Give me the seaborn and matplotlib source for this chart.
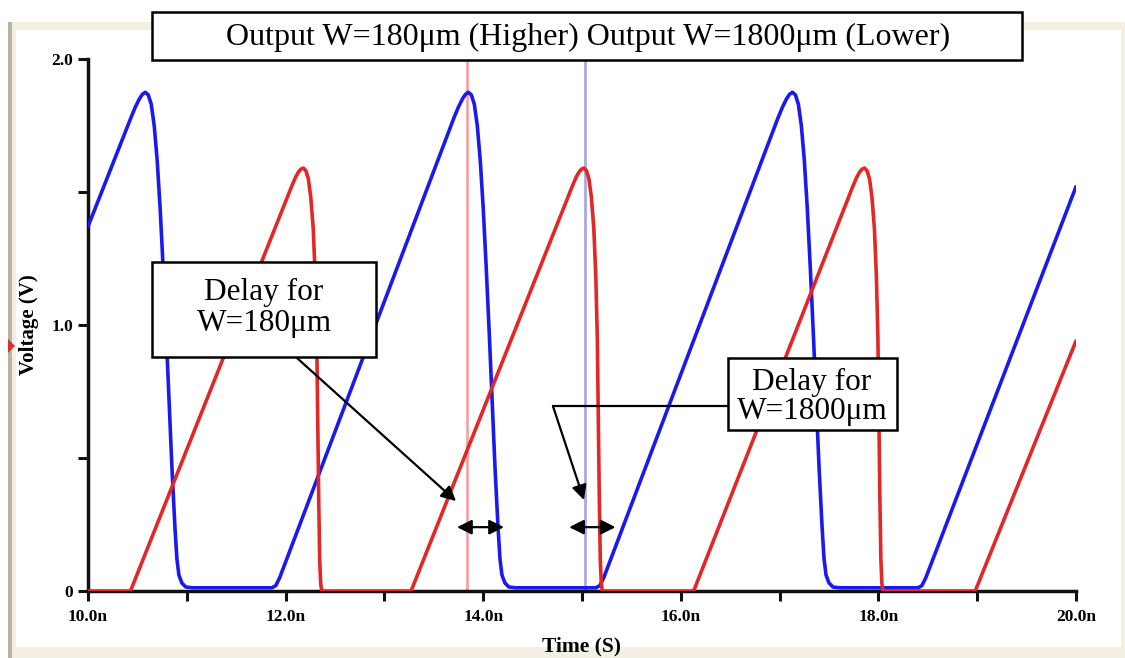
import matplotlib
matplotlib.use("Agg")
import matplotlib.pyplot as plt
from matplotlib.patches import Rectangle, Polygon
import pandas as pd
import seaborn as sns

# ---- waveform vertices (time in ns, voltage in V) ----
blue_t = [10.00, 10.43, 10.48, 10.52, 10.55, 10.58, 10.61, 10.64, 10.67, 10.70,
          10.73, 10.76, 10.79, 10.82, 10.85, 10.88, 10.90, 10.92, 10.95, 10.99,
          11.06, 11.86, 11.90, 11.94,
          13.70, 13.75, 13.79, 13.82, 13.85, 13.88, 13.91, 13.94, 13.97, 14.00,
          14.03, 14.06, 14.09, 14.12, 14.15, 14.17, 14.19, 14.22, 14.26, 14.33,
          15.14, 15.18, 15.22,
          16.98, 17.03, 17.07, 17.10, 17.13, 17.16, 17.19, 17.22, 17.25, 17.28,
          17.31, 17.34, 17.37, 17.40, 17.43, 17.45, 17.47, 17.50, 17.54, 17.61,
          18.40, 18.44, 18.48, 20.00]
blue_v = [1.37, 1.775, 1.82, 1.85, 1.867, 1.875, 1.865, 1.83, 1.75, 1.62,
          1.44, 1.22, 0.98, 0.72, 0.46, 0.24, 0.12, 0.06, 0.03, 0.015,
          0.012, 0.012, 0.02, 0.05,
          1.775, 1.82, 1.85, 1.867, 1.875, 1.865, 1.83, 1.75, 1.62, 1.44,
          1.22, 0.98, 0.72, 0.46, 0.24, 0.12, 0.06, 0.03, 0.015, 0.012,
          0.012, 0.02, 0.05,
          1.775, 1.82, 1.85, 1.867, 1.875, 1.865, 1.83, 1.75, 1.62, 1.44,
          1.22, 0.98, 0.72, 0.46, 0.24, 0.12, 0.06, 0.03, 0.015, 0.012,
          0.012, 0.02, 0.05, 1.52]

red_t = [10.00, 10.43,
         12.06, 12.10, 12.13, 12.155, 12.18, 12.205, 12.23, 12.255, 12.28, 12.30,
         12.315, 12.325, 12.335, 12.345, 12.355, 12.365,
         13.27,
         14.90, 14.94, 14.97, 14.995, 15.02, 15.045, 15.07, 15.095, 15.12, 15.14,
         15.155, 15.165, 15.175, 15.185, 15.195, 15.205,
         16.13,
         17.74, 17.78, 17.81, 17.835, 17.86, 17.885, 17.91, 17.935, 17.96, 17.98,
         17.995, 18.005, 18.015, 18.025, 18.035, 18.045,
         18.98, 20.00]
red_v = [0.0, 0.0,
         1.52, 1.555, 1.575, 1.586, 1.59, 1.58, 1.55, 1.48, 1.36, 1.18,
         0.95, 0.65, 0.35, 0.12, 0.03, 0.0,
         0.0,
         1.52, 1.555, 1.575, 1.586, 1.59, 1.58, 1.55, 1.48, 1.36, 1.18,
         0.95, 0.65, 0.35, 0.12, 0.03, 0.0,
         0.0,
         1.52, 1.555, 1.575, 1.586, 1.59, 1.58, 1.55, 1.48, 1.36, 1.18,
         0.95, 0.65, 0.35, 0.12, 0.03, 0.0,
         0.0, 0.94]

cursor_t = [13.84, 15.03]

x_major = [10, 12, 14, 16, 18, 20]
x_labels = ["10.0n", "12.0n", "14.0n", "16.0n", "18.0n", "20.0n"]
x_minor = [11, 13, 15, 17, 19]
y_major = [0, 1.0, 2.0]
y_labels = ["0", "1.0", "2.0"]
y_minor = [0.5, 1.5]

title_text = "Output W=180\u03bcm (Higher) Output W=1800\u03bcm (Lower)"
note1_text = "Delay for\nW=180\u03bcm"
note2_text = "Delay for\nW=1800\u03bcm"

df = pd.concat([
    pd.DataFrame({"t": blue_t, "v": blue_v, "trace": "W=180um"}),
    pd.DataFrame({"t": red_t, "v": red_v, "trace": "W=1800um"}),
], ignore_index=True)

sns.set_style("ticks")
plt.rcParams["font.family"] = ["Liberation Serif", "DejaVu Serif"]
for key in ("text.color", "axes.labelcolor", "xtick.color", "ytick.color"):
    plt.rcParams[key] = "black"

W, H = 1125, 658
fig = plt.figure(figsize=(W / 100, H / 100), dpi=100)
fig.patch.set_facecolor("white")


def fx(px):
    return px / W


def fy(py):
    return 1 - py / H


def frect(x0, y0, x1, y1, **kw):
    r = Rectangle((fx(x0), fy(y1)), fx(x1) - fx(x0), fy(y0) - fy(y1),
                  transform=fig.transFigure, **kw)
    fig.patches.append(r)
    return r


# simulator window frame
frect(8, 22, 1125, 658, facecolor="#f3efe3", edgecolor="none", zorder=-3)
frect(16, 30, 1121, 647, facecolor="white", edgecolor="none", zorder=-2)
frect(8, 22, 12, 658, facecolor="#b9b3a2", edgecolor="none", zorder=-1)
fig.patches.append(Polygon([(fx(8), fy(339)), (fx(15), fy(346)), (fx(8), fy(353))],
                           closed=True, transform=fig.transFigure,
                           facecolor="#d83030", edgecolor="none", zorder=-1))

ax = fig.add_axes([fx(88), fy(591), fx(1076) - fx(88), fy(59) - fy(591)])
ax.set_facecolor("white")

for t, c in zip(cursor_t, ["#f4a3a3", "#a9a9e2"]):
    ax.axvline(t, color=c, lw=2.0, zorder=1)

sns.lineplot(data=df, x="t", y="v", hue="trace",
             palette={"W=180um": "#1a1aee", "W=1800um": "#e32626"},
             estimator=None, sort=False, lw=2.6, legend=False, ax=ax, zorder=3,
             solid_joinstyle="round", solid_capstyle="round")

ax.set_xlim(10, 20)
ax.set_ylim(0, 2.0)
ax.set_xticks(x_major)
ax.set_xticklabels(x_labels)
ax.set_xticks(x_minor, minor=True)
ax.set_yticks(y_major)
ax.set_yticklabels(y_labels)
ax.set_yticks(y_minor, minor=True)

sns.despine(ax=ax)
for s in ("left", "bottom"):
    ax.spines[s].set_linewidth(2.5)
    ax.spines[s].set_color("#111111")
ax.tick_params(which="both", direction="out", length=7, width=2.2, color="#111111")
ax.tick_params(axis="x", which="major", labelsize=12.5, pad=6)
ax.tick_params(axis="y", which="major", labelsize=12.5, pad=3.5)
for lab in ax.get_xticklabels() + ax.get_yticklabels():
    lab.set_fontweight("bold")

ax.set_xlabel("Time (S)", fontsize=15.5, fontweight="bold", labelpad=8)
ax.set_ylabel("Voltage (V)", fontsize=15, fontweight="bold")
ax.yaxis.set_label_coords(-0.05, 0.5)

# delay annotations
arrow_kw = dict(arrowstyle="-|>", mutation_scale=22, lw=1.6, color="black",
                shrinkA=0, shrinkB=0)
ax.annotate("", xy=(13.725, 0.338), xytext=(12.115, 0.876),
            arrowprops=arrow_kw, annotation_clip=False, zorder=6)
ax.plot([16.48, 14.706], [0.695, 0.695], color="black", lw=1.6, zorder=6)
ax.annotate("", xy=(15.02, 0.342), xytext=(14.706, 0.695),
            arrowprops=arrow_kw, annotation_clip=False, zorder=6)
dbl_kw = dict(arrow_kw, arrowstyle="<|-|>")
ax.annotate("", xy=(14.21, 0.24), xytext=(13.735, 0.24), arrowprops=dbl_kw, zorder=6)
ax.annotate("", xy=(15.34, 0.24), xytext=(14.87, 0.24), arrowprops=dbl_kw, zorder=6)

# text boxes
frect(152, 12, 1022, 60, facecolor="white", edgecolor="black", lw=1.8, zorder=4)
fig.text(fx(588), fy(37), title_text, ha="center", va="center", fontsize=23, zorder=5)

frect(152, 262, 376, 357, facecolor="white", edgecolor="black", lw=1.8, zorder=4)
fig.text(fx(264), fy(308), note1_text, ha="center", va="center", fontsize=22.5,
         linespacing=1.1, zorder=5)

frect(728, 358, 897, 430, facecolor="white", edgecolor="black", lw=1.8, zorder=4)
fig.text(fx(812), fy(397), note2_text, ha="center", va="center", fontsize=22.5,
         linespacing=1.0, zorder=5)

fig.savefig("out.png", dpi=100, facecolor=fig.get_facecolor())
